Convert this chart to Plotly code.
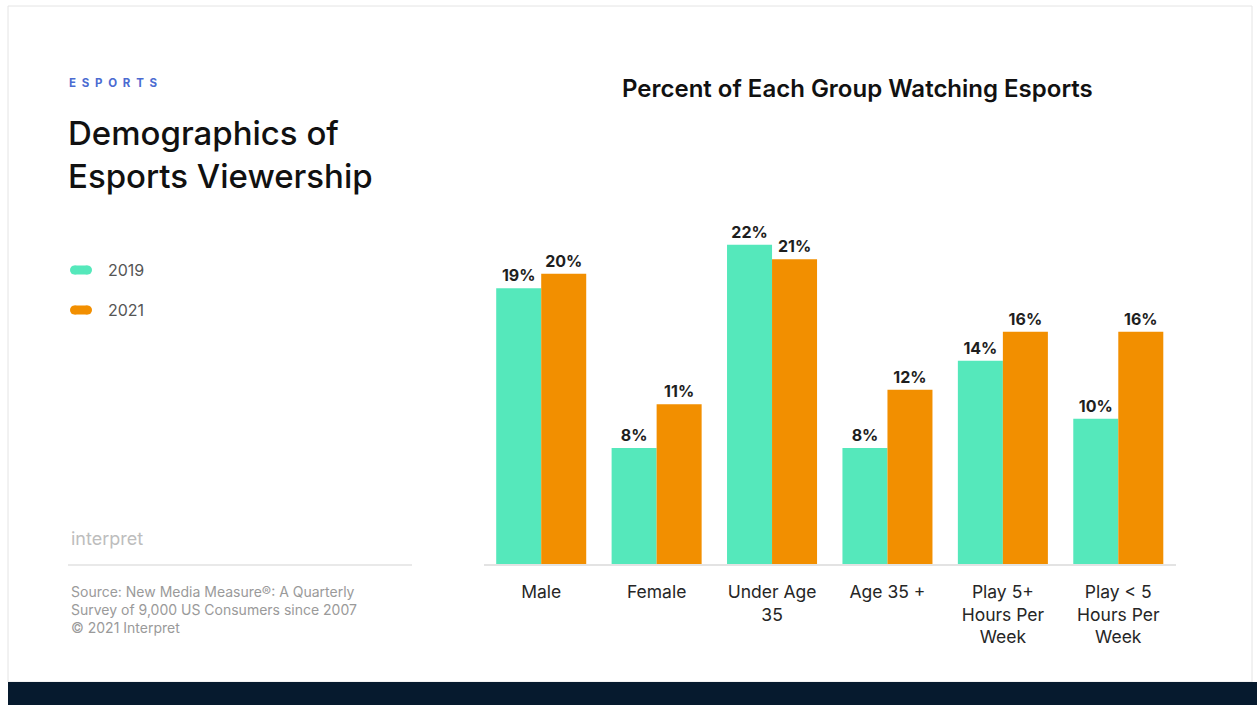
import plotly.graph_objects as go

W, H = 1257, 705

categories = ["Male", "Female", "Under Age<br>35", "Age 35 +",
              "Play 5+<br>Hours Per<br>Week", "Play < 5<br>Hours Per<br>Week"]
series_2019 = [19, 8, 22, 8, 14, 10]
series_2021 = [20, 11, 21, 12, 16, 16]
series_names = ["2019", "2021"]

MINT = "#55e8bb"
ORANGE = "#f28f00"
FONT = "Inter"


def px(x):
    return x / W


def py(y):
    return 1 - y / H


fig = go.Figure()
for name, vals, col in [(series_names[0], series_2019, MINT),
                        (series_names[1], series_2021, ORANGE)]:
    fig.add_trace(go.Bar(
        x=categories, y=vals, name=name, marker=dict(color=col, line=dict(width=0)),
        text=[f"{v}%" for v in vals], textposition="outside", cliponaxis=False,
        textfont=dict(family=FONT, size=16, color="#1e1e1e", weight=700),
        showlegend=False,
    ))

fig.update_layout(
    width=W, height=H,
    margin=dict(l=0, r=0, t=0, b=0),
    paper_bgcolor="white", plot_bgcolor="white",
    barmode="group", bargap=0.22, bargroupgap=0,
    font=dict(family=FONT),
    xaxis=dict(domain=[px(483.5), px(1176)], showline=True, linecolor="#e3e3e3",
               linewidth=1.5, showgrid=False, zeroline=False, ticks="",
               ticklabelstandoff=11,
               tickfont=dict(family=FONT, size=17.5, color="#262626")),
    yaxis=dict(domain=[py(564), py(220)], range=[0, 23.7], visible=False,
               showgrid=False, zeroline=False),
)

shapes = [
    # card outline
    dict(type="rect", xref="paper", yref="paper", x0=px(8), x1=px(1252),
         y0=py(682), y1=py(6), line=dict(color="#e4e4e4", width=1),
         fillcolor="rgba(0,0,0,0)", layer="below"),
    # footer band
    dict(type="rect", xref="paper", yref="paper", x0=px(8), x1=1,
         y0=0, y1=py(682), line=dict(width=0), fillcolor="#061a2e"),
    # divider above the source note
    dict(type="line", xref="paper", yref="paper", x0=px(68), x1=px(412),
         y0=py(565), y1=py(565), line=dict(color="#e2e2e2", width=1.5)),
]


def pill(x0, x1, yc, h, col):
    """Rounded legend swatch: a rectangle capped by two circles."""
    r = h / 2
    base = dict(xref="paper", yref="paper", fillcolor=col, line=dict(width=0))
    return [
        dict(type="rect", x0=px(x0 + r), x1=px(x1 - r),
             y0=py(yc + r), y1=py(yc - r), **base),
        dict(type="circle", x0=px(x0), x1=px(x0 + h),
             y0=py(yc + r), y1=py(yc - r), **base),
        dict(type="circle", x0=px(x1 - h), x1=px(x1),
             y0=py(yc + r), y1=py(yc - r), **base),
    ]


annotations = []
for i, (name, col) in enumerate([(series_names[0], MINT), (series_names[1], ORANGE)]):
    yc = 270 + 40 * i
    shapes += pill(70, 92, yc, 9, col)
    annotations.append(dict(x=px(106), y=py(yc), xanchor="left", text=name,
                            font=dict(family=FONT, size=16, color="#555555")))

annotations += [
    dict(x=px(857), y=py(89), xanchor="center",
         text="Percent of Each Group Watching Esports",
         font=dict(family=FONT, size=24, color="#111111", weight=600)),
    dict(x=px(67), y=py(83), xanchor="left",
         text="E\u2002S\u2002P\u2002O\u2002R\u2002T\u2002S",
         font=dict(family=FONT, size=11.5, color="#4b6bd1", weight=700)),
    dict(x=px(66), y=py(133), xanchor="left", text="Demographics of",
         font=dict(family=FONT, size=33, color="#111111", weight=500)),
    dict(x=px(66), y=py(176), xanchor="left", text="Esports Viewership",
         font=dict(family=FONT, size=33, color="#111111", weight=500)),
    dict(x=px(69), y=py(538), xanchor="left", text="interpret",
         font=dict(family=FONT, size=18, color="#bdbdbd")),
    dict(x=px(69), y=py(609), xanchor="left", align="left",
         text=("Source: New Media Measure\u00ae: A Quarterly<br>"
               "Survey of 9,000 US Consumers since 2007<br>"
               "\u00a9 2021 Interpret"),
         font=dict(family=FONT, size=14, color="#9a9a9a")),
]
for a in annotations:
    a.setdefault("xref", "paper")
    a.setdefault("yref", "paper")
    a.setdefault("showarrow", False)
    a.setdefault("yanchor", "middle")

fig.update_layout(shapes=shapes, annotations=annotations)
fig.write_html("out.html")
